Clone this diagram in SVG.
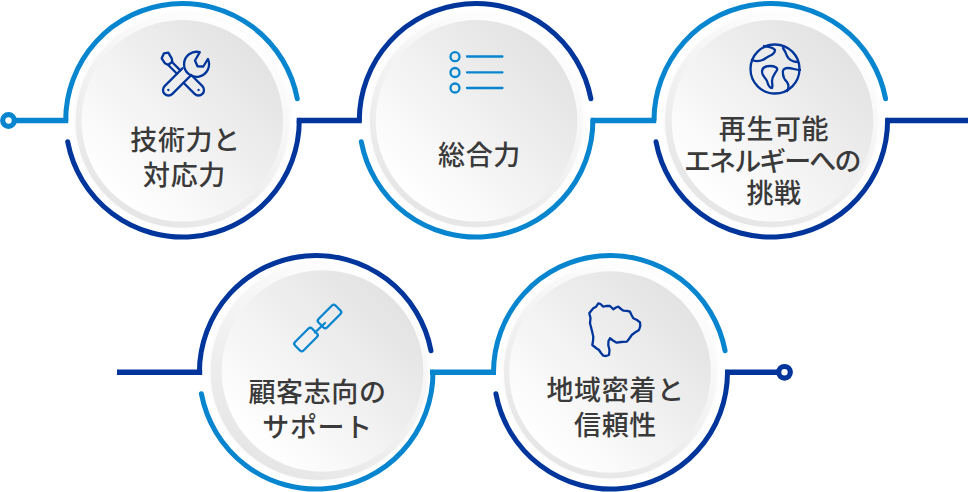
<svg xmlns="http://www.w3.org/2000/svg" width="968" height="492" viewBox="0 0 968 492">
<style>
.l{stroke:#0885cf}.d{stroke:#00359b}
.a{fill:none;stroke-width:5;stroke-linecap:round}
.c{fill:none;stroke-width:5.500;stroke-linecap:butt}
.o{fill:url(#go);filter:url(#sh)}
.i{fill:url(#gi)}
.t{font-family:"Noto Sans CJK JP","Noto Sans",sans-serif;font-size:27px;font-weight:500;fill:#3a3a3a;text-anchor:middle;letter-spacing:.6px}
.n{fill:none;stroke-width:2.300;stroke-linejoin:round;stroke-linecap:round}
</style>
<defs>
<linearGradient id="gi" x1="0.15" y1="0.85" x2="0.85" y2="0.15"><stop offset="0" stop-color="#fff"/><stop offset="1" stop-color="#e3e3e3"/></linearGradient>
<linearGradient id="go" x1="0.8" y1="0.05" x2="0.3" y2="0.95"><stop offset="0" stop-color="#fff"/><stop offset="1" stop-color="#e6e6e6"/></linearGradient>
<filter id="sh" x="-20%" y="-20%" width="140%" height="140%"><feDropShadow dx="0" dy="0" stdDeviation="2.500" flood-color="#000" flood-opacity=".04"/></filter>
</defs>
<g id="connectors">
<circle class="l" cx="8.500" cy="120.500" r="5.800" fill="#fff" stroke-width="5.200"/>
<path class="c l" d="M14 120.500H68.300"/>
<path class="c d" d="M296.700 120.500H361.700"/>
<path class="c l" d="M590.600 120.500H656.200"/>
<path class="c d" d="M885.200 120.500H968"/>
<path class="c d" d="M117 372.300H202.200"/>
<path class="c l" d="M430 372.300H496"/>
<path class="c d" d="M725 372.300H778"/>
<circle class="d" cx="784.500" cy="372.300" r="5.800" fill="#fff" stroke-width="5.200"/>
</g>
<g id="node1">
<circle class="o" cx="182.500" cy="120.800" r="107"/><circle class="i" cx="182.300" cy="120.800" r="100.800"/>
<path class="a l" d="M65.700 120.300A116.800 116.800 0 0 1 297.300 98.800"/>
<path class="a d" d="M299.300 120.300A116.800 116.800 0 0 1 67.700 141.800"/>
<g class="n d">
<path d="M161.700 58.300L164 53.300L168.300 52.700L171.700 58.300L172.300 61.700L168.300 65L165 63.300z"/>
<path d="M172 62L180.300 70.400M168.500 65.300L177 73.700"/>
<path d="M191.300 75L202.400 86.100A5.500 5.500 0 0 1 194.600 93.900L183.500 82.800"/>
<path d="M182.500 68.200L164.600 86.100A5.500 5.500 0 0 0 172.400 93.900L190.800 75.500"/>
<path d="M199.800 52.200A12.500 12.500 0 1 0 207.900 59L203.300 66.500L197.500 66.300L195 60.500z"/>
<path d="M168.300 90h.1M198.500 90h.1"/>
</g>
<text class="t" x="185.500" y="150">技術力と</text><text class="t" x="184.500" y="185">対応力</text>
</g>
<g id="node2">
<circle class="o" cx="476.300" cy="120.800" r="106.500"/><circle class="i" cx="476.500" cy="120.800" r="100.800"/>
<path class="a d" d="M359.300 120.300A116.800 116.800 0 0 1 590.900 98.800"/>
<path class="a l" d="M592.900 120.300A116.800 116.800 0 0 1 361.300 141.800"/>
<g class="n l"><circle cx="455" cy="56.700" r="4.500"/><circle cx="455" cy="72.500" r="4.500"/><circle cx="455" cy="88" r="4.500"/><path d="M467 56.500H502.500M467 72.300H502.500M467 88H502.500"/></g>
<text class="t" x="479.500" y="165">総合力</text>
</g>
<g id="node3">
<circle class="o" cx="771.500" cy="120.800" r="106.500"/><circle class="i" cx="772.500" cy="120.800" r="100.800"/>
<path class="a l" d="M654 120.300A116.800 116.800 0 0 1 885.600 98.800"/>
<path class="a d" d="M887.600 120.300A116.800 116.800 0 0 1 656 141.800"/>
<g class="n d"><circle cx="775" cy="69" r="24.500"/>
<path d="M752 60C757 62 762 61 766 58C770 55 775 55 775 50C773 47 768 47 764 46"/>
<path d="M783 48C785 51 786 53 787 56C789 60 793 62 798 62"/>
<path d="M762 72C762 68 765 66 770 66C775 66 778 68 777 70C775 74 772 76 772 81C772 84 773 86 772 88C769 88 768 85 767 81C766 78 762 76 762 72z"/>
<path d="M800 70C796 70 792 68 788 68C784 68 782 70 783 74C783 78 785 80 787 82C789 85 789 88 787 91"/></g>
<text class="t" x="774" y="139">再生可能</text><text class="t" x="773" y="171" textLength="178" lengthAdjust="spacing">エネルギーへの</text><text class="t" x="774" y="203">挑戦</text>
</g>
<g id="node4">
<circle class="o" cx="319" cy="371.500" r="108.500"/><circle class="i" cx="322.500" cy="371" r="100.800"/>
<path class="a d" d="M199.400 372.300A116.800 116.800 0 0 1 431 350.800"/>
<path class="a l" d="M433 372.300A116.800 116.800 0 0 1 201.400 393.800"/>
<g class="n l"><rect x="317.500" y="310.500" width="24" height="12" rx="2.500" transform="rotate(-45 329.500 316.500)"/><rect x="294" y="333.500" width="24" height="12" rx="2.500" transform="rotate(-45 306 339.500)"/><path d="M315 332.500L325 323"/></g>
<text class="t" x="317.500" y="402">顧客志向の</text><text class="t" x="317.500" y="437">サポート</text>
</g>
<g id="node5">
<circle class="o" cx="610.300" cy="372" r="106.500"/><circle class="i" cx="610" cy="372" r="100.800"/>
<path class="a l" d="M493.500 372.300A116.800 116.800 0 0 1 725.100 350.800"/>
<path class="a d" d="M727.500 372.300A116.800 116.800 0 0 1 495.900 393.800"/>
<path class="n d" stroke-width="2.800" d="M598.300 303.300L600.500 304L603.300 306.700L606 306L610 306L611.500 307.500L613.300 309.300L616 307.500L618.300 306.700L621 309L623.300 310.700L627 310.800L630 311.700L631.500 315L633.300 318.300L637 320L640 322.300L640.300 326L639 330L635 332.500L631.700 335L629 339L626.700 341.700L621 342L616.700 342.700L613 340.500L610 338.300L608.500 341L608.300 345L609.500 350L609 355L606 356L603.300 355.700L601 353L599 350L596 348L592.300 345L593 341L593.300 336.700L592 331L590 323.300L590.500 318L589.300 313.300L591 311L593.300 308.300L596 306.800z"/>
<text class="t" x="615.500" y="400">地域密着と</text><text class="t" x="615.500" y="435">信頼性</text>
</g>
</svg>
